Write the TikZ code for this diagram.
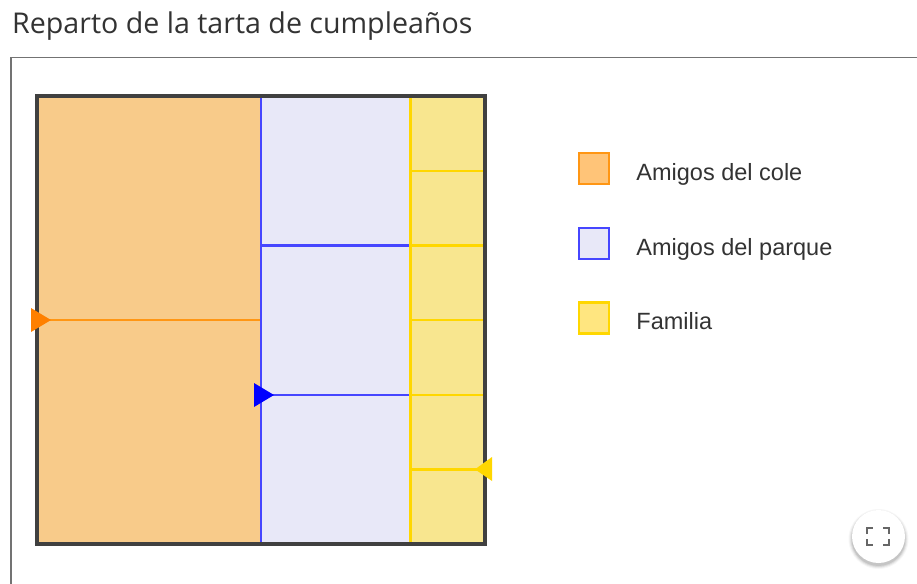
\documentclass[tikz,border=0pt]{standalone}
\usepackage{fontspec}
\setmainfont{Liberation Sans}
\newfontfamily\titlefont{Open Sans}
\usetikzlibrary{positioning}
\definecolor{colefill}{RGB}{248,203,138}
\definecolor{colekey}{RGB}{255,196,120}
\definecolor{coleline}{RGB}{255,150,20}
\definecolor{colearrow}{RGB}{255,128,0}
\definecolor{parquefill}{RGB}{232,232,248}
\definecolor{parqueline}{RGB}{70,70,255}
\definecolor{parquearrow}{RGB}{0,0,255}
\definecolor{familiafill}{RGB}{248,230,143}
\definecolor{familiakey}{RGB}{255,230,128}
\definecolor{familialine}{RGB}{255,215,0}
\definecolor{tartaborde}{RGB}{64,64,64}
\tikzstyle{keybox} = [rectangle, minimum width=30pt, minimum height=31pt, inner sep=0pt, line width=2.5pt]
\tikzstyle{keytext} = [font=\fontsize{23.5}{28}\selectfont, text=black!80, inner sep=0pt]
\tikzstyle{trozo} = [line width=2.4pt]

\begin{document}
\begin{tikzpicture}
[x=1pt, y=-1pt]
\useasboundingbox (0,0) rectangle (917,583);
\fill[white] (0,0) rectangle (917,583);

% titulo y marco
\node (title) [anchor=base west, inner sep=0pt, font=\titlefont\fontsize{28.6}{34}\selectfont, text=black!80] at (12,34) {Reparto de la tarta de cumpleaños};
\draw[black!55, line width=1.5pt] (11,590) -- (11,57.5) -- (925,57.5);

% trozos de la tarta
\fill[colefill] (37,96) rectangle (261,544);
\fill[parquefill] (261,96) rectangle (410.3,544);
\fill[familiafill] (410.3,96) rectangle (485,544);
\draw[trozo, coleline] (37,320) -- (261,320);
\draw[trozo, parqueline] (261,96) -- (261,544);
\foreach \y in {245.3,394.7}
  \draw[trozo, parqueline] (261,\y) -- (410.3,\y);
\draw[trozo, familialine] (410.3,96) -- (410.3,544);
\foreach \y in {170.7,245.3,320,394.7,469.3}
  \draw[trozo, familialine] (410.3,\y) -- (485,\y);
\draw[tartaborde, line width=3.2pt] (37,96) rectangle (485,544);

% flechas
\fill[colearrow] (31,308) -- (51,320) -- (31,332) -- cycle;
\fill[parquearrow] (254,383) -- (274,395) -- (254,407) -- cycle;
\fill[familialine] (492,457) -- (475,469.3) -- (492,481) -- cycle;

% leyenda
\node (colebox) [keybox, draw=coleline, fill=colekey] at (594,168.5) {};
\node (parquebox) [keybox, draw=parqueline, fill=parquefill] at (594,243.5) {};
\node (familiabox) [keybox, draw=familialine, fill=familiakey] at (594,318) {};
\node (coletxt) [keytext, right=26pt of colebox, anchor=base west, yshift=-12pt] {Amigos del cole};
\node (parquetxt) [keytext, right=26pt of parquebox, anchor=base west, yshift=-12pt] {Amigos del parque};
\node (familiatxt) [keytext, right=26pt of familiabox, anchor=base west, yshift=-11pt] {Familia};

% boton pantalla completa
\foreach \r/\o in {30/0.03,29/0.05,28/0.07,27/0.09}
  \fill[black, opacity=\o] (878.5,539) circle (\r);
\node (fullbtn) [circle, fill=white, minimum size=53pt, inner sep=0pt] at (878.5,536.5) {};
\draw[black!60, line width=2.2pt] (867,534) -- (867,528) -- (873,528)
  (883,528) -- (889,528) -- (889,534)
  (867,539) -- (867,545) -- (873,545)
  (883,545) -- (889,545) -- (889,539);
\end{tikzpicture}
\end{document}
